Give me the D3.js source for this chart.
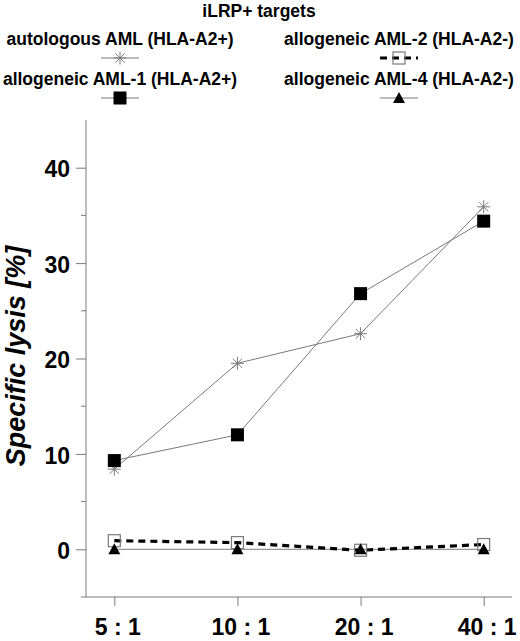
<!DOCTYPE html>
<html>
<head>
<meta charset="utf-8">
<script src="https://cdn.jsdelivr.net/npm/d3@7"></script>
<style>
  body { margin: 0; background: #fff; }
  text { font-family: "Liberation Sans", Arial, sans-serif; font-weight: bold; fill: #000; }
</style>
</head>
<body>
<div id="chart"></div>
<script>
let ratios = ["5 : 1", "10 : 1", "20 : 1", "40 : 1"];
let autologous = [8.4, 19.5, 22.6, 35.9];
let aml1 = [9.3, 12.0, 26.8, 34.4];
let aml2 = [0.9, 0.7, -0.1, 0.5];
let aml4 = [0.0, 0.0, 0.0, 0.0];
let yTicks = [0, 10, 20, 30, 40];
let yMinor = [-5, 5, 15, 25, 35];

let series = [
    { name: "autologous AML (HLA-A2+)", values: autologous, marker: "star", line: "thin", col: 0, row: 0 },
    { name: "allogeneic AML-1 (HLA-A2+)", values: aml1, marker: "square", line: "thin", col: 0, row: 1 },
    { name: "allogeneic AML-4 (HLA-A2-)", values: aml4, marker: "triangle", line: "thin", col: 1, row: 1 },
    { name: "allogeneic AML-2 (HLA-A2-)", values: aml2, marker: "open", line: "dash", col: 1, row: 0 }
];

let width = 520, height = 641;
let grey = "#7a7a7a";

let svg = d3.select("#chart").append("svg")
    .attr("width", width)
    .attr("height", height);

let x = d3.scalePoint().domain(ratios).range([86, 512]).padding(0.23);
let y = d3.scaleLinear().domain([-5, 45]).range([597, 120]);

// axes
let yAxis = svg.append("g").attr("transform", "translate(86,0)")
    .call(d3.axisLeft(y).tickValues(yTicks).tickSize(10).tickPadding(6).tickFormat(d3.format("d")));
yAxis.select(".domain").attr("stroke", grey).attr("d", "M0," + y(45) + "V" + y(-5));
yAxis.selectAll(".tick line").attr("stroke", grey);
yAxis.selectAll(".tick text").style("font-size", "23px").attr("dy", "0.4em");

svg.append("g").selectAll("line")
    .data(yMinor)
    .enter()
    .append("line")
    .attr("x1", 81).attr("x2", 86)
    .attr("y1", d => y(d)).attr("y2", d => y(d))
    .attr("stroke", grey);

let xAxis = svg.append("g").attr("transform", "translate(0,597)")
    .call(d3.axisBottom(x).tickSize(9).tickPadding(13));
xAxis.select(".domain").attr("stroke", grey).attr("d", "M86,0H512");
xAxis.selectAll(".tick line").attr("stroke", grey);
xAxis.selectAll(".tick text").style("font-size", "23px").attr("dx", "3");

svg.append("text")
    .attr("transform", "translate(25,356) rotate(-90)")
    .attr("text-anchor", "middle")
    .style("font-size", "27px")
    .style("font-style", "italic")
    .text("Specific lysis [%]");

// markers
function drawMarker(g, type, cx, cy) {
    if (type === "star") {
        let r = 6.5;
        [0, 45, 90, 135].forEach(a => {
            let dx = r * Math.cos(a * Math.PI / 180), dy = r * Math.sin(a * Math.PI / 180);
            g.append("line")
                .attr("x1", cx - dx).attr("y1", cy - dy)
                .attr("x2", cx + dx).attr("y2", cy + dy)
                .attr("stroke", grey).attr("stroke-width", 1);
        });
    } else if (type === "square") {
        g.append("rect").attr("x", cx - 6.5).attr("y", cy - 6.5)
            .attr("width", 13).attr("height", 13).attr("fill", "#000");
    } else if (type === "open") {
        g.append("rect").attr("x", cx - 6).attr("y", cy - 6)
            .attr("width", 12).attr("height", 12)
            .attr("fill", "none").attr("stroke", grey).attr("stroke-width", 1.2);
    } else if (type === "triangle") {
        g.append("path")
            .attr("d", "M" + cx + "," + (cy - 6) + "L" + (cx + 6) + "," + (cy + 5) + "L" + (cx - 6) + "," + (cy + 5) + "Z")
            .attr("fill", "#000");
    }
}

function styleLine(sel, kind) {
    if (kind === "dash") {
        sel.attr("stroke", "#000").attr("stroke-width", 3.2).attr("stroke-dasharray", "7,5");
    } else {
        sel.attr("stroke", grey).attr("stroke-width", 1);
    }
}

let line = d3.line()
    .x((d, i) => x(ratios[i]))
    .y(d => y(d));

let lineLayer = svg.append("g");
series.forEach(s => {
    styleLine(lineLayer.append("path").attr("d", line(s.values)).attr("fill", "none"), s.line);
});

let markerLayer = svg.append("g");
["star", "square", "open", "triangle"].forEach(m => {
    series.filter(s => s.marker === m).forEach(s => {
        s.values.forEach((v, i) => drawMarker(markerLayer, m, x(ratios[i]), y(v)));
    });
});

// legend
svg.append("text")
    .attr("x", 259).attr("y", 17)
    .attr("text-anchor", "middle")
    .style("font-size", "17.5px")
    .text("iLRP+ targets");

let colX = [120, 399];
let rowY = [45, 85];
let legend = svg.append("g");
series.forEach(s => {
    let cx = colX[s.col], ty = rowY[s.row];
    legend.append("text")
        .attr("x", cx).attr("y", ty)
        .attr("text-anchor", "middle")
        .style("font-size", "17.5px")
        .text(s.name);
    let sy = ty + 13;
    styleLine(legend.append("line")
        .attr("x1", cx - 19).attr("x2", cx + 19)
        .attr("y1", sy).attr("y2", sy), s.line);
    drawMarker(legend, s.marker, cx, sy);
});
</script>
</body>
</html>
